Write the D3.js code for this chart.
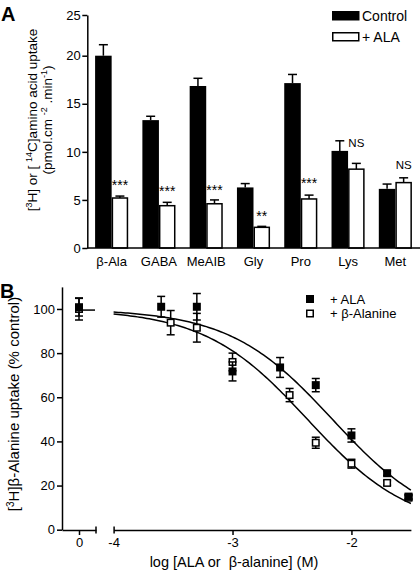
<!DOCTYPE html>
<html><head><meta charset="utf-8">
<script src="https://cdn.jsdelivr.net/npm/d3@7"></script>
<style>
body{margin:0;background:#fff}
svg{display:block}
text{font-family:"Liberation Sans",Arial,Helvetica,sans-serif;fill:#000}
</style>
</head><body><svg id="c" width="420" height="578"></svg>
<script>
// ---------- Panel A data ----------
const categories = ["β-Ala","GABA","MeAIB","Gly","Pro","Lys","Met"];
const controlMean = [20.0, 13.3, 16.85, 6.3, 17.15, 10.1, 6.15];
const controlSEM  = [1.35, 0.4, 0.8, 0.4, 0.9, 1.05, 0.5];
const alaMean     = [5.2, 4.4, 4.6, 2.15, 5.1, 8.2, 6.8];
const alaSEM      = [0.2, 0.35, 0.4, 0.1, 0.4, 0.6, 0.5];
const sigLabels   = ["***","***","***","**","***","NS","NS"];
const sigLevel    = [6.05, 5.4, 5.55, 2.8, 6.25, 10.55, 8.2];
const yTicksA     = [0, 5, 10, 15, 20, 25];
const legendA     = ["Control", "+ ALA"];

// ---------- Panel B data ----------
const ctrlX = 0;
const alaLogConc  = [-3.6, -3.3, -3, -2.6, -2.3, -2, -1.7, -1.52];
const alaPct      = [101, 101, 71.7, 73.5, 65.5, 42.7, 25.6, 15];
const alaErr      = [4.7, 6, 4.3, 4.5, 3, 3, 1, 1];
const alaCtrl     = [100.8, 4];
const betaLogConc = [-3.52, -3.3, -3, -2.52, -2.3, -2, -1.7, -1.52];
const betaPct     = [93.8, 91.5, 76, 61, 39.4, 29.9, 21.2, 14.5];
const betaErr     = [5.5, 6.5, 4, 3, 2.5, 2, 1, 1];
const betaCtrl    = [100, 5];
const alaLogIC50  = -2.16;
const betaLogIC50 = -2.37;
const hillSlope   = 1;
const yTicksB     = [0, 20, 40, 60, 80, 100];
const xTicksB     = [-4, -3, -2];
const legendB     = ["+ ALA", "+ β-Alanine"];

const svg = d3.select("#c");

// =========== PANEL A ===========
const yA = d3.scaleLinear().domain([0, 20, 25]).range([248, 55.7, 15]);
const xA = d3.scaleBand().domain(categories).range([88, 419]).paddingInner(0.3).paddingOuter(0.15);
const half = xA.bandwidth() / 2;
const gA = svg.append("g");

gA.append("text").attr("x", 1).attr("y", 21).style("font-size", "20px").style("font-weight", "bold").text("A");

const rowsA = categories.map((c, i) => ({c, cm: controlMean[i], cs: controlSEM[i], am: alaMean[i], as: alaSEM[i], sig: sigLabels[i], lvl: sigLevel[i]}));
const grp = gA.selectAll("g.grp").data(rowsA).join("g").attr("class", "grp")
  .attr("transform", d => `translate(${xA(d.c)},0)`);
function errUp(sel, xc, top, base) {
  sel.append("line").attr("x1", xc).attr("x2", xc).attr("y1", base).attr("y2", top).attr("stroke", "#000").attr("stroke-width", 1.5);
  sel.append("line").attr("x1", xc - 4.5).attr("x2", xc + 4.5).attr("y1", top).attr("y2", top).attr("stroke", "#000").attr("stroke-width", 1.5);
}
grp.each(function(d) {
  const g = d3.select(this);
  errUp(g, half / 2, yA(d.cm + d.cs), yA(d.cm));
  errUp(g, half + half / 2, yA(d.am + d.as), yA(d.am));
  g.append("rect").attr("x", 0).attr("width", half).attr("y", yA(d.cm)).attr("height", yA(0) - yA(d.cm)).attr("fill", "#000");
  g.append("rect").attr("x", half + 0.75).attr("width", half - 1.5).attr("y", yA(d.am)).attr("height", yA(0) - yA(d.am))
    .attr("fill", "#fff").attr("stroke", "#000").attr("stroke-width", 1.5);
  const isNS = d.sig === "NS";
  g.append("text").attr("x", half + half / 2).attr("y", yA(d.lvl)).attr("text-anchor", "middle")
    .style("font-size", isNS ? "11.5px" : "14px").text(d.sig);
});

const axA = gA.append("g").attr("transform", "translate(87.3,0)")
  .call(d3.axisLeft(yA).tickValues(yTicksA).tickSize(5).tickPadding(1.5).tickSizeOuter(0));
axA.select(".domain").attr("stroke-width", 1.5);
axA.selectAll(".tick line").attr("stroke-width", 1.5);
axA.selectAll("text").style("font-size", "13px").style("font-family", null);

const axAx = gA.append("g").attr("transform", "translate(0,248)")
  .call(d3.axisBottom(xA).tickSize(0).tickPadding(9).tickSizeOuter(0));
axAx.select(".domain").attr("d", "M87,0H420").attr("stroke-width", 1.5);
axAx.selectAll("text").style("font-size", "13px").style("font-family", null);

const tA = gA.append("text").attr("transform", "translate(37,120) rotate(-90)").attr("text-anchor", "middle").style("font-size", "13.5px");
tA.append("tspan").text("[");
tA.append("tspan").attr("baseline-shift", "super").style("font-size", "9px").text("3");
tA.append("tspan").text("H] or [ ");
tA.append("tspan").attr("baseline-shift", "super").style("font-size", "9px").text("14");
tA.append("tspan").text("C]amino acid uptake");
const tA2 = gA.append("text").attr("transform", "translate(52,120) rotate(-90)").attr("text-anchor", "middle").style("font-size", "13.5px");
tA2.append("tspan").text("(pmol.cm ");
tA2.append("tspan").attr("baseline-shift", "super").style("font-size", "9px").text("-2");
tA2.append("tspan").text(" .min");
tA2.append("tspan").attr("baseline-shift", "super").style("font-size", "9px").text("-1");
tA2.append("tspan").text(")");

const lgA = gA.append("g");
legendA.forEach((t, i) => {
  const y = 11 + i * 21;
  lgA.append("rect").attr("x", 332.75).attr("y", y + 0.75).attr("width", 26).attr("height", 8)
    .attr("fill", i === 0 ? "#000" : "#fff").attr("stroke", "#000").attr("stroke-width", 1.5);
  lgA.append("text").attr("x", 362).attr("y", y + 9.8).style("font-size", "14px").text(t);
});

// =========== PANEL B ===========
const gB = svg.append("g");
gB.append("text").attr("x", 0).attr("y", 298).style("font-size", "20px").style("font-weight", "bold").text("B");

const yB = d3.scaleLinear().domain([0, 110]).range([529.7, 286.9]);
const xB0 = d3.scaleLinear().domain([-1, 1]).range([62, 96]);
const xB = d3.scaleLinear().domain([-4, -1.5]).range([113.6, 410.9]);
const yAxisY = 530;
const fmt = d3.format("d");

const axB = gB.append("g").attr("transform", "translate(62,0)")
  .call(d3.axisLeft(yB).tickValues(yTicksB).tickSize(5).tickPadding(2).tickSizeOuter(0));
axB.select(".domain").attr("stroke-width", 1.5);
axB.selectAll(".tick line").attr("stroke-width", 1.5);
axB.selectAll("text").style("font-size", "13px").style("font-family", null);

const ax0 = gB.append("g").attr("transform", `translate(0,${yAxisY})`)
  .call(d3.axisBottom(xB0).tickValues([ctrlX]).tickFormat(fmt).tickSize(5).tickPadding(3).tickSizeOuter(0));
ax0.select(".domain").attr("stroke-width", 1.5);
ax0.selectAll(".tick line").attr("stroke-width", 1.5);
ax0.selectAll("text").style("font-size", "13px").style("font-family", null).attr("y", 8);
ax0.append("line").attr("x1", xB0(1)).attr("x2", xB0(1)).attr("y1", -3.5).attr("y2", 3.5).attr("stroke", "#000").attr("stroke-width", 1.5);

const ax1 = gB.append("g").attr("transform", `translate(0,${yAxisY})`)
  .call(d3.axisBottom(xB).tickValues(xTicksB).tickFormat(d => fmt(d).replace("−", "-")).tickSize(5).tickPadding(3).tickSizeOuter(0));
ax1.select(".domain").attr("stroke-width", 1.5);
ax1.selectAll(".tick line").attr("stroke-width", 1.5).attr("y1", d => d === xB.domain()[0] ? -3.5 : 0).attr("y2", d => d === xB.domain()[0] ? 3.5 : 5);
ax1.selectAll("text").style("font-size", "13px").style("font-family", null).attr("y", 8);

gB.append("text").attr("x", 234).attr("y", 567).attr("text-anchor", "middle").style("font-size", "14.5px")
  .attr("xml:space", "preserve").text("log [ALA or  β-alanine] (M)");
const tB = gB.append("text").attr("transform", "translate(19,404) rotate(-90)").attr("text-anchor", "middle").style("font-size", "15px");
tB.append("tspan").text("[");
tB.append("tspan").attr("baseline-shift", "super").style("font-size", "10px").text("3");
tB.append("tspan").text("H]β-Alanine uptake (% control)");

const xGrid = d3.range(-4, -1.5 + 1e-9, 0.02);
const logistic = (x, c) => 100 / (1 + Math.pow(10, (x - c) * hillSlope));
const line = d3.line().x(d => xB(d[0])).y(d => yB(d[1]));
[alaLogIC50, betaLogIC50].forEach(c => {
  gB.append("path").attr("d", line(xGrid.map(x => [x, logistic(x, c)])))
    .attr("fill", "none").attr("stroke", "#000").attr("stroke-width", 1.5);
});

gB.append("line").attr("x1", xB0(ctrlX)).attr("x2", xB0(1) - 1).attr("y1", yB(99.5)).attr("y2", yB(99.5))
  .attr("stroke", "#000").attr("stroke-width", 1.5);

function errBar(g, x, m, e) {
  const y1 = yB(m + e), y2 = yB(m - e);
  g.append("line").attr("x1", x).attr("x2", x).attr("y1", y1).attr("y2", y2).attr("stroke", "#000").attr("stroke-width", 1.5);
  [y1, y2].forEach(y => g.append("line").attr("x1", x - 4).attr("x2", x + 4).attr("y1", y).attr("y2", y).attr("stroke", "#000").attr("stroke-width", 1.5));
}
const S = 8;
const betaPts = betaLogConc.map((x, i) => ({px: xB(x), m: betaPct[i], e: betaErr[i]}));
betaPts.unshift({px: xB0(ctrlX), m: betaCtrl[0], e: betaCtrl[1]});
const alaPts = alaLogConc.map((x, i) => ({px: xB(x), m: alaPct[i], e: alaErr[i]}));
alaPts.unshift({px: xB0(ctrlX), m: alaCtrl[0], e: alaCtrl[1]});

const gOpen = gB.append("g");
betaPts.forEach(p => errBar(gOpen, p.px, p.m, p.e));
gOpen.selectAll("rect").data(betaPts).join("rect")
  .attr("x", d => d.px - S / 2 + 0.75).attr("y", d => yB(d.m) - S / 2 + 0.75).attr("width", S - 1.5).attr("height", S - 1.5)
  .attr("fill", "#fff").attr("stroke", "#000").attr("stroke-width", 1.5);
const gFill = gB.append("g");
alaPts.forEach(p => errBar(gFill, p.px, p.m, p.e));
gFill.selectAll("rect").data(alaPts).join("rect")
  .attr("x", d => d.px - S / 2).attr("y", d => yB(d.m) - S / 2).attr("width", S).attr("height", S).attr("fill", "#000");

legendB.forEach((t, i) => {
  const cy = 299 + i * 14.5;
  if (i === 0) gB.append("rect").attr("x", 306).attr("y", cy - 4).attr("width", 8).attr("height", 8).attr("fill", "#000");
  else gB.append("rect").attr("x", 306.75).attr("y", cy - 3.25).attr("width", 6.5).attr("height", 6.5).attr("fill", "#fff").attr("stroke", "#000").attr("stroke-width", 1.5);
  gB.append("text").attr("x", 330).attr("y", cy + 4.8).style("font-size", "13px").text(t);
});
</script></body></html>
